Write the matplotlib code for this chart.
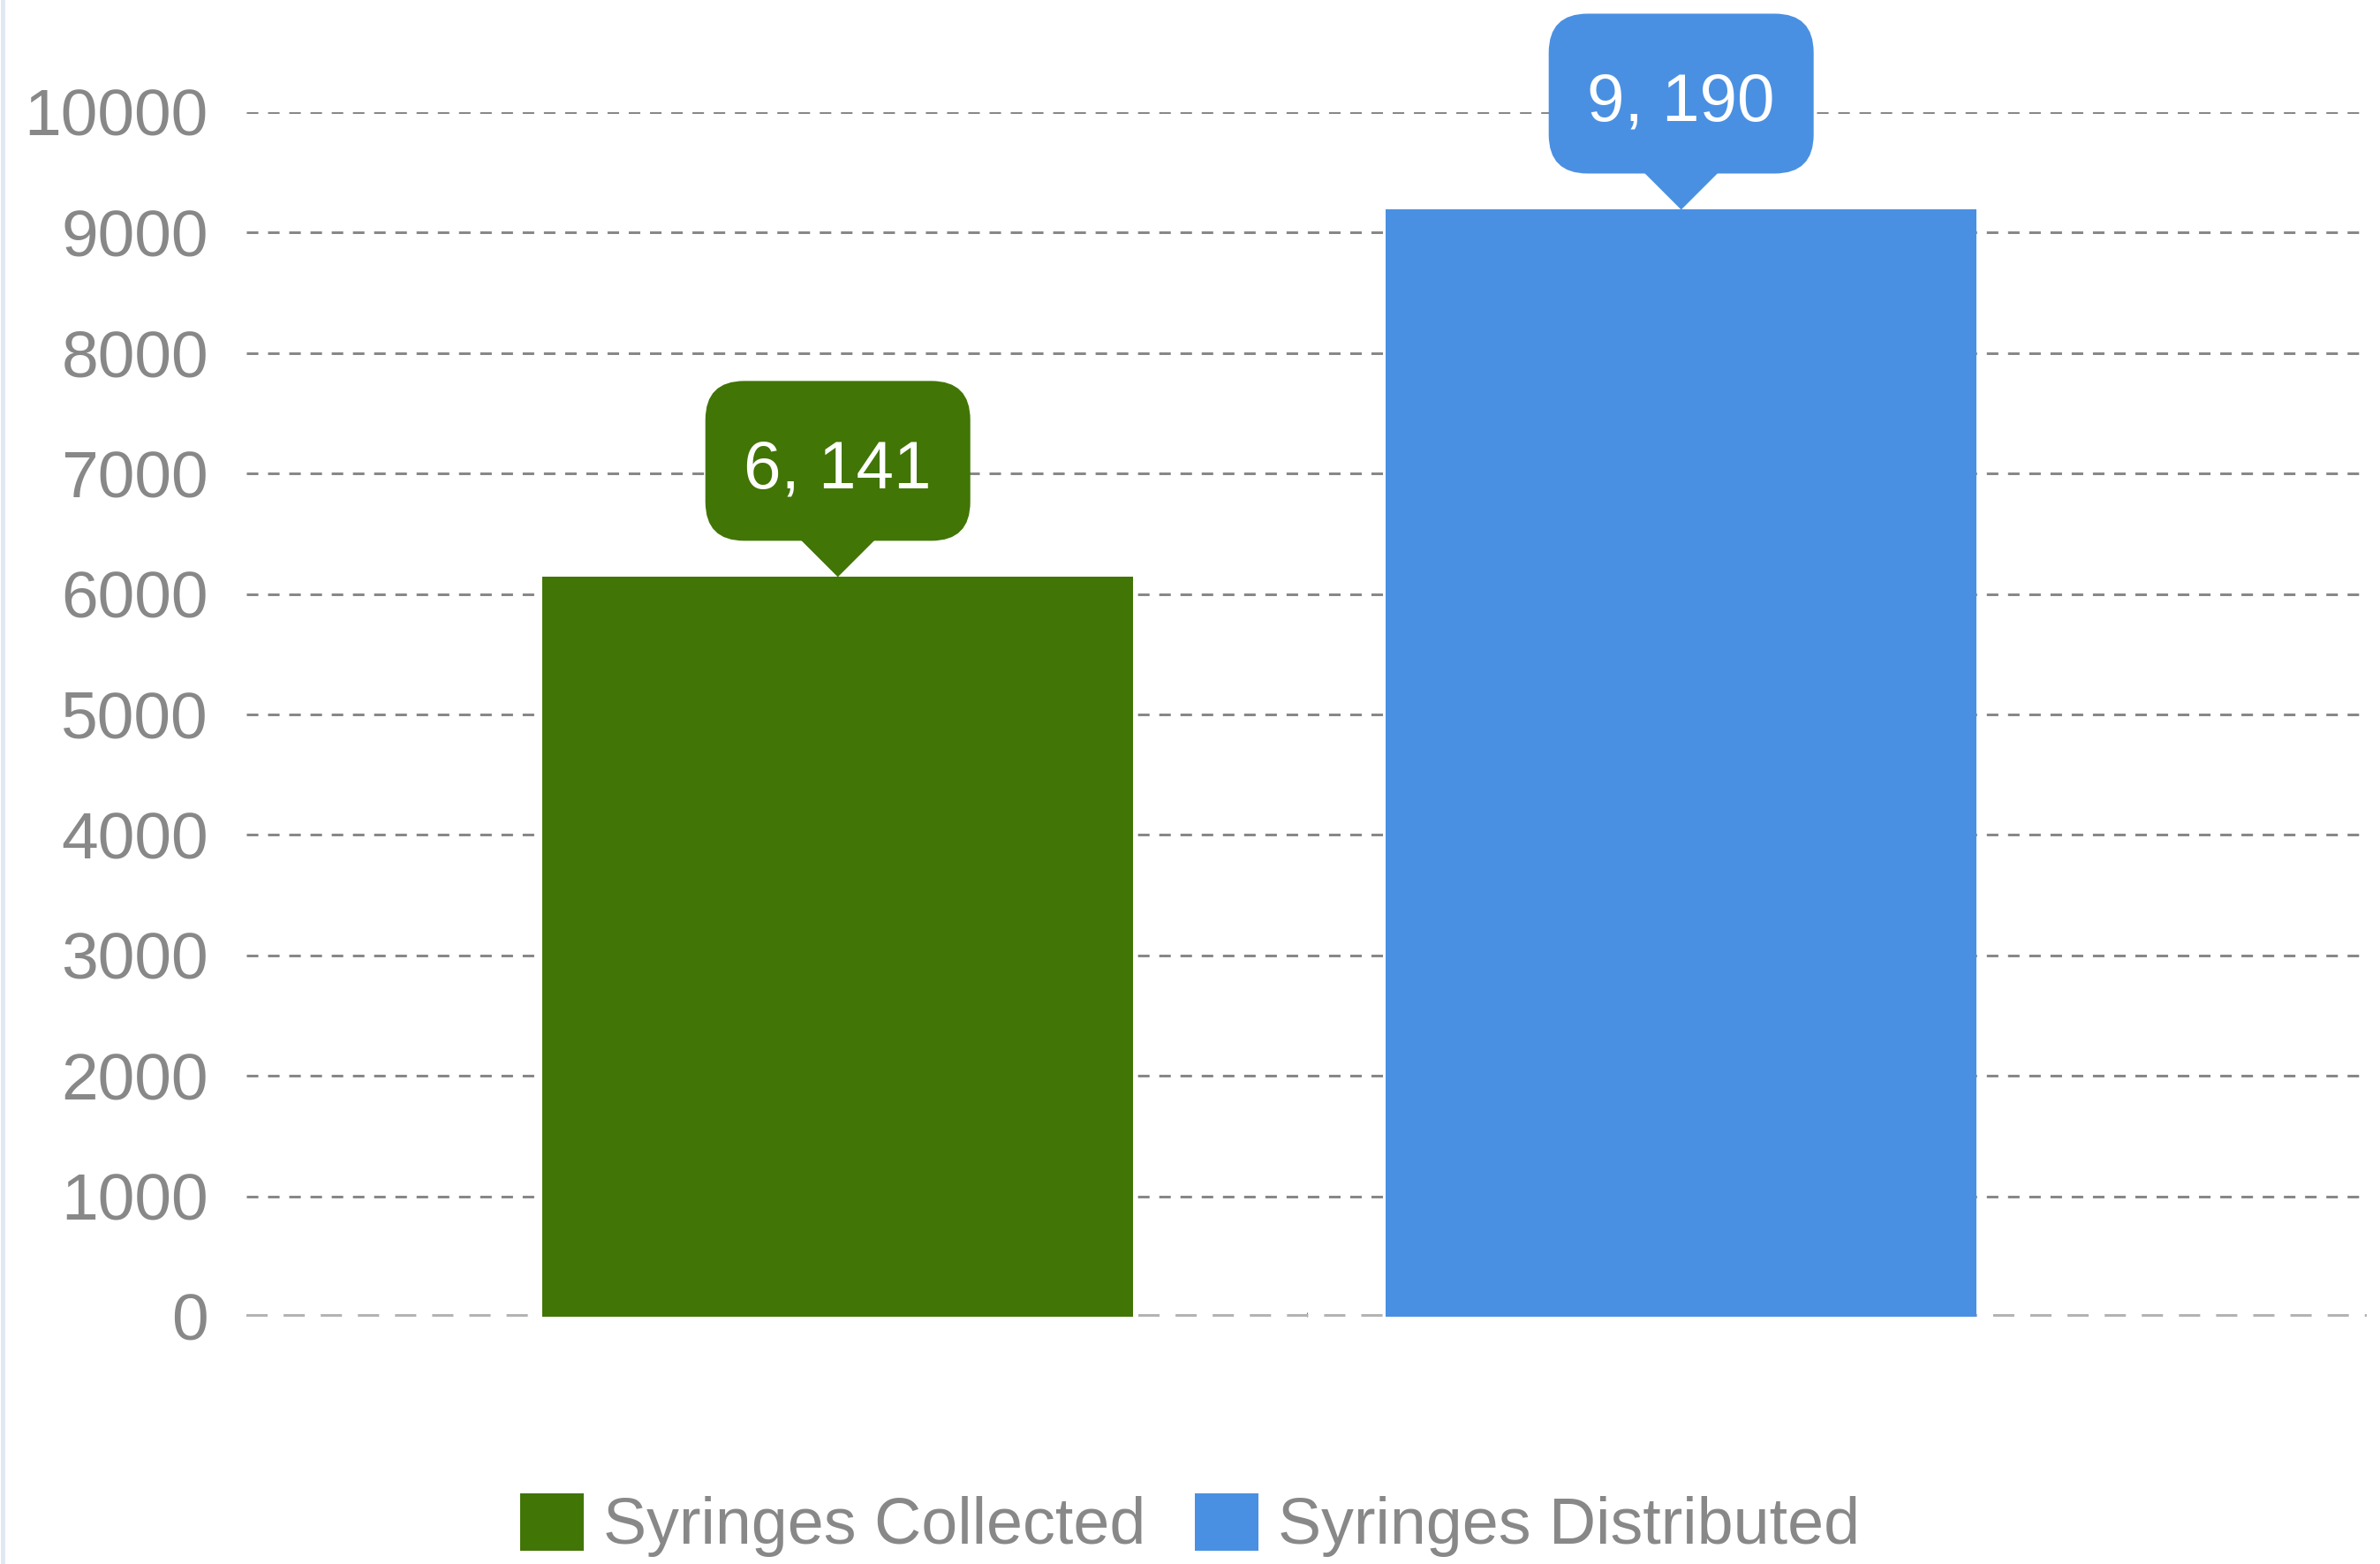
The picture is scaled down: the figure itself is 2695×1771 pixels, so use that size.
import matplotlib
matplotlib.use('Agg')
import matplotlib.pyplot as plt
import matplotlib.patches as mpatches
import matplotlib.transforms as mtransforms
from matplotlib.lines import Line2D

plt.rcParams['font.family'] = ['Liberation Sans', 'DejaVu Sans']
plt.rcParams['lines.scale_dashes'] = False

# data
categories = ['Syringes Collected', 'Syringes Distributed']
values = [6141, 9190]
value_labels = ['6, 141', '9, 190']
colors = ['#417505', '#4A90E2']
yticks = [0, 1000, 2000, 3000, 4000, 5000, 6000, 7000, 8000, 9000, 10000]

W, H = 2695, 1771
DPI = 100
TEXT_GRAY = '#888888'
FS = 54

fig = plt.figure(figsize=(W / DPI, H / DPI), dpi=DPI)
fig.patch.set_facecolor('white')

# axes placed in pixel terms: x 279..2680, y(0)=1491 from top, y(10000)=127 from top
ax = fig.add_axes([279 / W, (H - 1491) / H, (2680 - 279) / W, (1491 - 127) / H])
ax.set_facecolor('none')

x = list(range(len(values)))
ax.bar(x, values, width=0.70, color=colors, zorder=3)
ax.set_xlim(-0.7013, 1.8129)
ax.set_ylim(0, 10000)

# grid lines
for t in yticks[1:]:
    ax.axhline(t, color='#888888', linewidth=2.16, dashes=(9.4, 7.9),
               zorder=1)
ax.axhline(0, color='#b3b3b3', linewidth=4.3, dashes=(17.3, 13.0), zorder=2)

ax.set_yticks(yticks)
ax.set_yticklabels([str(t) for t in yticks])
ax.tick_params(axis='y', length=0, pad=31, labelsize=FS, labelcolor=TEXT_GRAY)
xl = ax.get_xlim()
ax.set_xticks([(xl[0] + xl[1]) / 2])
ax.set_xticklabels([''])
ax.tick_params(axis='x', direction='in', length=3.6, width=0.8, color='#777777')
for s in ax.spines.values():
    s.set_visible(False)

# callout labels above bars (pixel offsets from bar top)
for xi, v, lab, c in zip(x, values, value_labels, colors):
    anchor = mtransforms.ScaledTranslation(xi, v, ax.transData)
    tr = mtransforms.IdentityTransform() + anchor
    box = mpatches.FancyBboxPatch((-150 + 42, 41 + 42), 300 - 84, 181 - 84,
                                  boxstyle='round,pad=42,rounding_size=44',
                                  facecolor=c, edgecolor='none',
                                  transform=tr, clip_on=False, zorder=4)
    ax.add_patch(box)
    tri = mpatches.Polygon([(-42, 42), (42, 42), (0, 0)], closed=True,
                           facecolor=c, edgecolor='none', transform=tr,
                           clip_on=False, zorder=4)
    ax.add_patch(tri)
    ax.text(0, 100, lab, transform=tr, ha='center', va='baseline',
            color='white', fontsize=55, zorder=5, clip_on=False)

# legend
handles = [mpatches.Patch(facecolor=c, edgecolor='none') for c in colors]
fig.legend(handles, categories, loc='center', bbox_to_anchor=(0.5, 44 / H),
           ncol=2, frameon=False, fontsize=53, handlelength=0.978,
           handleheight=0.99, handletextpad=0.3, columnspacing=0.75,
           borderpad=0, borderaxespad=0, labelcolor=TEXT_GRAY)

# thin left border
fig.add_artist(Line2D([2.5 / W, 2.5 / W], [0, 1], transform=fig.transFigure,
                      color='#e1e8f3', linewidth=3.6))

fig.savefig('out.png', dpi=DPI, facecolor='white')
